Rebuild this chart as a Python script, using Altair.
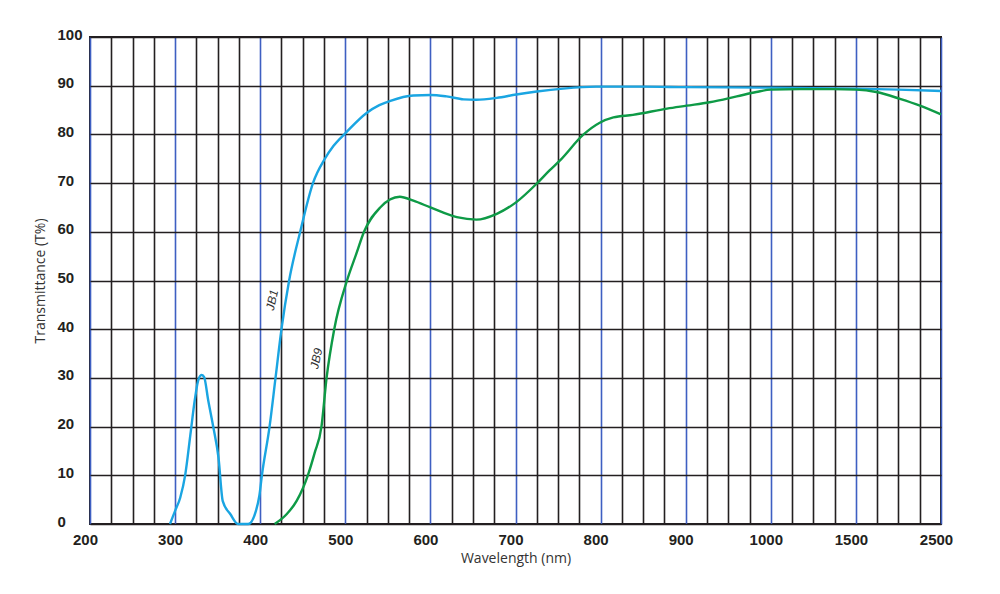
import altair as alt
import pandas as pd

# ---- data ----
jb1_wl = [294, 300, 306, 312, 318, 323, 327, 331, 334, 339, 345, 351, 356, 365, 374,
          386, 395, 399, 402, 411, 418, 425, 434, 447, 462, 476, 486, 501, 525, 540, 553,
          580, 600, 619, 639, 654, 678, 701, 725, 756, 795, 850, 900, 1000, 1250, 1500,
          2000, 2500]
jb1_t = [0, 2.7, 5.4, 10.2, 18.4, 25.3, 29.4, 30.6, 30.2, 25.3, 19.8, 13.6, 4.7, 2, 0,
         0, 2.7, 5.8, 10, 20, 30, 40, 50, 60, 70, 75, 77.6, 80.4, 84.4, 86.0, 86.9,
         88, 88.1, 87.8, 87.2, 87.1, 87.5, 88.2, 88.8, 89.4, 89.8, 89.8, 89.7, 89.6, 89.5, 89.4,
         89.2, 88.9]

jb9_wl = [417, 431, 443, 456, 464, 472, 478, 487, 502, 513, 522, 541, 564, 580,
          600, 631, 654, 678, 701, 725, 740, 752, 780, 799, 815, 838, 878, 901, 928,
          960, 983, 1000, 1170, 1366, 1500, 1740, 2018, 2253, 2500]
jb9_t = [0, 2, 4.8, 10, 14.6, 20, 30, 40, 50, 55.5, 60, 65, 67.2, 66.4,
         65, 63, 62.5, 63.7, 66.1, 69.9, 72.6, 74.6, 80, 82.4, 83.5, 84, 85.3, 85.9, 86.6,
         87.8, 88.7, 89.2, 89.3, 89.3, 89.2, 88.7, 87.3, 85.9, 84.1]

tick_labels = ["200", "300", "400", "500", "600", "700", "800", "900", "1000", "1500", "2500"]
y_ticks = [0, 10, 20, 30, 40, 50, 60, 70, 80, 90, 100]

label_text = ["JB1", "JB9"]
label_wl = [414, 466]
label_t = [46, 34]

BLUE_CURVE = "#1aa5e2"
GREEN_CURVE = "#0e9a46"
GRID_BLUE = "#3e5fc2"
GRID_BLACK = "#231f20"

curves = pd.concat([
    pd.DataFrame({"wl": jb1_wl, "t": jb1_t, "filter": "JB1"}),
    pd.DataFrame({"wl": jb9_wl, "t": jb9_t, "filter": "JB9"}),
])
labels = pd.DataFrame({"text": label_text, "wl": label_wl, "t": label_t})

# piecewise wavelength axis: 200-1000 linear, then 1000-1500, 1500-2500 each one division
pos_expr = ("datum.wl <= 1000 ? (datum.wl - 200) / 100 : "
            "(datum.wl <= 1500 ? 8 + (datum.wl - 1000) / 500 : 9 + (datum.wl - 1500) / 1000)")

grid_vals = [i * 0.25 for i in range(41)]
lab_arr = "[" + ",".join("'" + s + "'" for s in tick_labels) + "]"
label_expr = f"datum.value % 1 === 0 ? {lab_arr}[datum.value] : ''"

x_scale = alt.Scale(domain=[0, 10], nice=False, zero=False)
y_scale = alt.Scale(domain=[0, 100], nice=False)

x_axis = alt.Axis(
    values=grid_vals, tickCount=100, labelExpr=label_expr, title="Wavelength (nm)",
    grid=True, gridWidth=1.6,
    gridColor=alt.condition("datum.value % 1 === 0", alt.value(GRID_BLUE), alt.value(GRID_BLACK)),
    ticks=False, domain=False, labelPadding=8, labelOffset=-5,
    labelFont="Liberation Sans", labelFontSize=15, labelFontWeight="bold", labelColor=GRID_BLACK,
    titleFont="Open Sans", titleFontSize=14, titleFontWeight="normal", titleColor="#333333",
    titlePadding=4, labelFlush=False, labelOverlap=False,
)
y_axis = alt.Axis(
    values=y_ticks, tickCount=100, title="Transmittance (T%)", grid=True,
    gridColor=GRID_BLACK, gridWidth=1.6,
    ticks=False, domain=False, labelAlign="left", labelPadding=33, labelOffset=-3,
    labelFont="Liberation Sans", labelFontSize=15, labelFontWeight="bold", labelColor=GRID_BLACK,
    titleFont="Open Sans", titleFontSize=14, titleFontWeight="normal", titleColor="#333333",
    titlePadding=10,
)

base = alt.Chart(curves).transform_calculate(p=pos_expr)

lines = base.mark_line(strokeWidth=2.4, interpolate="monotone").encode(
    x=alt.X("p:Q", scale=x_scale, axis=x_axis),
    y=alt.Y("t:Q", scale=y_scale, axis=y_axis),
    color=alt.Color("filter:N", scale=alt.Scale(domain=["JB1", "JB9"], range=[BLUE_CURVE, GREEN_CURVE]), legend=None),
    detail="filter:N",
)

texts = alt.Chart(labels).transform_calculate(p=pos_expr).mark_text(
    angle=283, fontSize=12, fontStyle="italic", font="Liberation Sans", color="#333333"
).encode(
    x=alt.X("p:Q", scale=x_scale),
    y=alt.Y("t:Q", scale=y_scale),
    text="text:N",
)

chart = alt.layer(lines, texts).properties(
    width=851, height=487,
    padding={"left": 82, "top": 29, "right": 40, "bottom": 60},
    autosize=alt.AutoSizeParams(type="none"),
).configure_view(stroke=GRID_BLACK, strokeWidth=2)

chart.save("out.html", embed_options={"renderer": "svg", "actions": False})
